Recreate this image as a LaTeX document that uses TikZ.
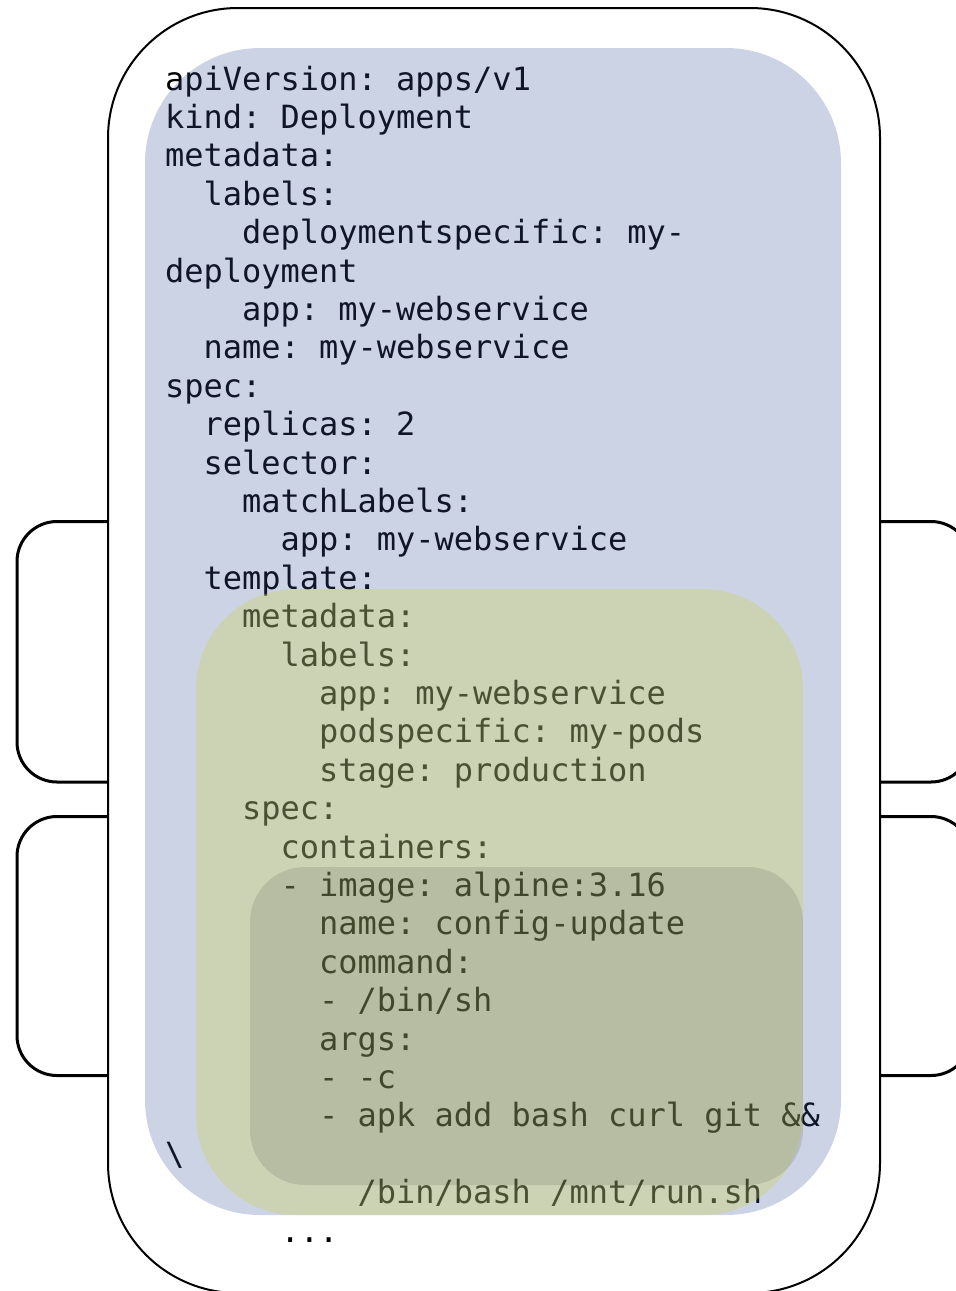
\documentclass[tikz,border=0pt]{standalone}
\usepackage{fontspec}
\newfontfamily\codefont{DejaVu Sans Mono}
\definecolor{blueov}{RGB}{61,87,156}
\definecolor{greenov}{RGB}{204,211,74}
\tikzset{
  codeline/.style={anchor=base west, inner sep=0pt, outer sep=0pt, text=black,
    font=\codefont\fontsize{16}{19.2}\selectfont\frenchspacing},
  outline/.style={draw=black, line width=1pt},
  tabline/.style={draw=black, line width=1.5pt, rounded corners=20pt},
  deplbox/.style={fill=blueov, fill opacity=0.263, rounded corners=57.5pt},
  podbox/.style={fill=greenov, fill opacity=0.31, rounded corners=50pt},
  ctrbox/.style={fill=black, fill opacity=0.1, rounded corners=27.5pt}
}
\begin{document}
\begin{tikzpicture}[x=0.5pt, y=-0.5pt]
\useasboundingbox (0,0) rectangle (956,1291);
\clip (0,0) rectangle (956,1291);
% outer shape and tabs
\draw[outline, rounded corners=65pt] (108,8) rectangle (880,1293);
\draw[tabline] (108,521.5) -- (17,521.5) -- (17,782) -- (108,782);
\draw[tabline] (108,816.5) -- (17,816.5) -- (17,1075.5) -- (108,1075.5);
\draw[tabline] (880,521.5) -- (971,521.5) -- (971,782) -- (880,782);
\draw[tabline] (880,816.5) -- (971,816.5) -- (971,1075.5) -- (880,1075.5);
% code text
\def\cw{19.26}
\node[codeline] (l0)  at (165+0*\cw, 90+38.4*0)  {apiVersion: apps/v1};
\node[codeline] (l1)  at (165+0*\cw, 90+38.4*1)  {kind: Deployment};
\node[codeline] (l2)  at (165+0*\cw, 90+38.4*2)  {metadata:};
\node[codeline] (l3)  at (165+2*\cw, 90+38.4*3)  {labels:};
\node[codeline] (l4)  at (165+4*\cw, 90+38.4*4)  {deploymentspecific: my-};
\node[codeline] (l5)  at (165+0*\cw, 90+38.4*5)  {deployment};
\node[codeline] (l6)  at (165+4*\cw, 90+38.4*6)  {app: my-webservice};
\node[codeline] (l7)  at (165+2*\cw, 90+38.4*7)  {name: my-webservice};
\node[codeline] (l8)  at (165+0*\cw, 90+38.4*8)  {spec:};
\node[codeline] (l9)  at (165+2*\cw, 90+38.4*9)  {replicas: 2};
\node[codeline] (l10) at (165+2*\cw, 90+38.4*10) {selector:};
\node[codeline] (l11) at (165+4*\cw, 90+38.4*11) {matchLabels:};
\node[codeline] (l12) at (165+6*\cw, 90+38.4*12) {app: my-webservice};
\node[codeline] (l13) at (165+2*\cw, 90+38.4*13) {template:};
\node[codeline] (l14) at (165+4*\cw, 90+38.4*14) {metadata:};
\node[codeline] (l15) at (165+6*\cw, 90+38.4*15) {labels:};
\node[codeline] (l16) at (165+8*\cw, 90+38.4*16) {app: my-webservice};
\node[codeline] (l17) at (165+8*\cw, 90+38.4*17) {podspecific: my-pods};
\node[codeline] (l18) at (165+8*\cw, 90+38.4*18) {stage: production};
\node[codeline] (l19) at (165+4*\cw, 90+38.4*19) {spec:};
\node[codeline] (l20) at (165+6*\cw, 90+38.4*20) {containers:};
\node[codeline] (l21) at (165+6*\cw, 90+38.4*21) {- image: alpine:3.16};
\node[codeline] (l22) at (165+8*\cw, 90+38.4*22) {name: config-update};
\node[codeline] (l23) at (165+8*\cw, 90+38.4*23) {command:};
\node[codeline] (l24) at (165+8*\cw, 90+38.4*24) {- /bin/sh};
\node[codeline] (l25) at (165+8*\cw, 90+38.4*25) {args:};
\node[codeline] (l26) at (165+8*\cw, 90+38.4*26) {- -c};
\node[codeline] (l27) at (165+8*\cw, 90+38.4*27) {- apk add bash curl git \&\&};
\node[codeline] (l28) at (165+0*\cw, 90+38.4*28) {\textbackslash};
\node[codeline] (l29) at (165+10*\cw, 90+38.4*29) {/bin/bash /mnt/run.sh};
\node[codeline] (l30) at (165+6*\cw, 90+38.4*30) {...};
% translucent overlays
\fill[deplbox] (145,48) rectangle (841,1215);
\fill[podbox] (196,589) rectangle (803,1215);
\fill[ctrbox] (250,867) rectangle (803,1185);
\end{tikzpicture}
\end{document}
